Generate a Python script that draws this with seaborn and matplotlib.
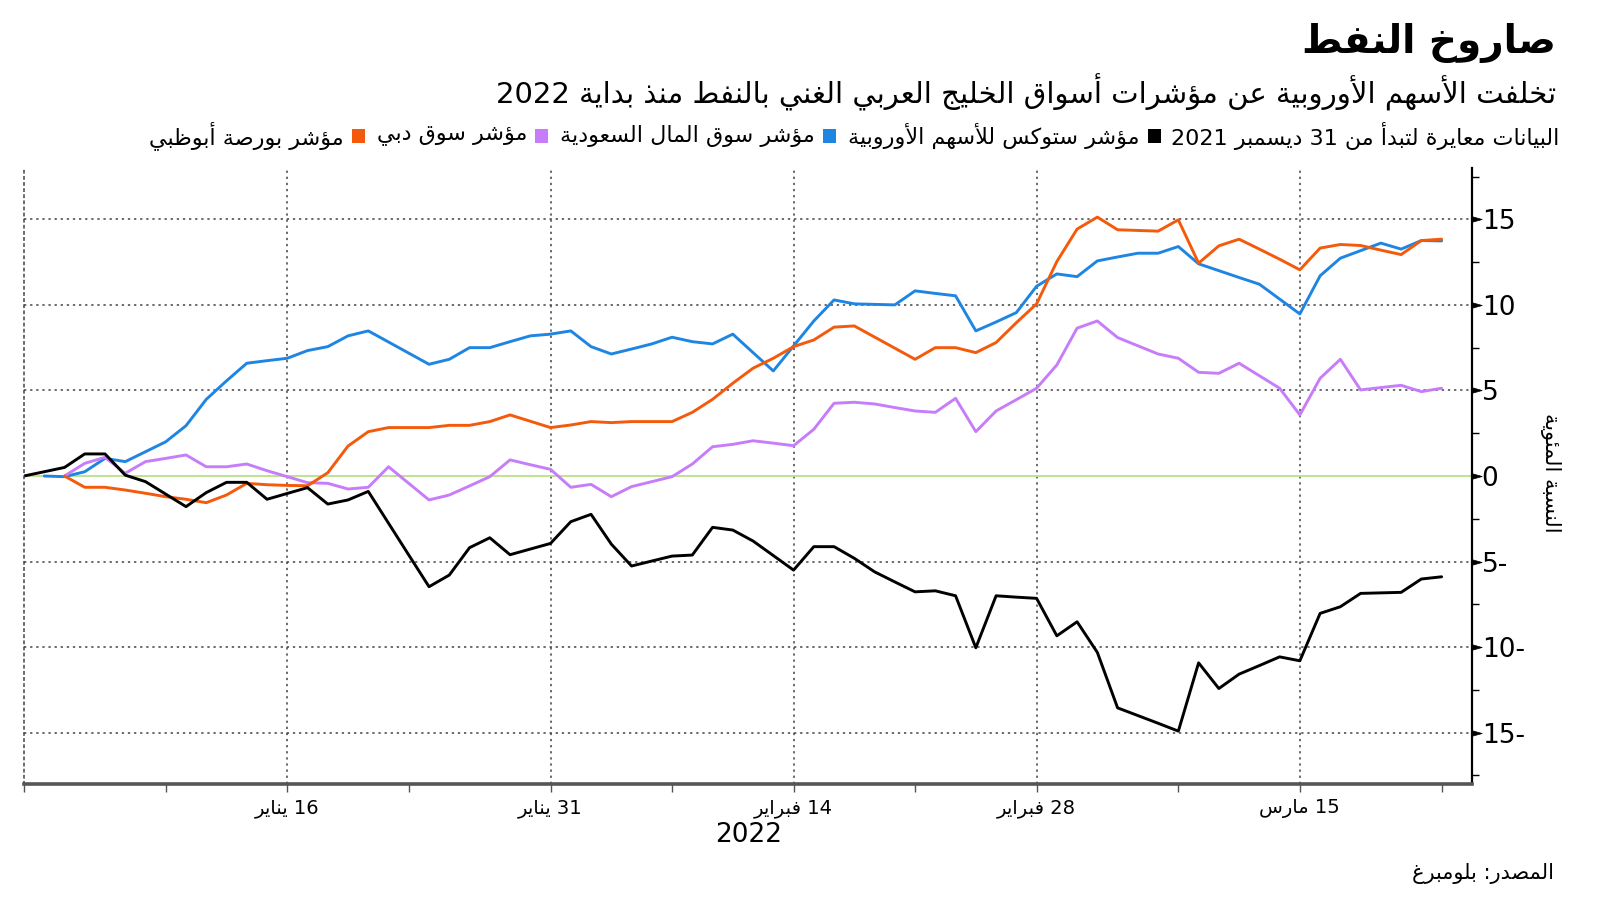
import re
import numpy as np
import pandas as pd
import matplotlib
matplotlib.use("Agg")
import matplotlib.pyplot as plt
from matplotlib.path import Path
import seaborn as sns

# ---------------- data ----------------
start_date = "2021-12-31"
end_date = "2022-03-23"

series_names = ["مؤشر ستوكس للأسهم الأوروبية", "مؤشر سوق المال السعودية",
                "مؤشر سوق دبي", "مؤشر بورصة أبوظبي"]
series_colors = ["#000000", "#1e86e2", "#c77dfa", "#f45a0c"]

stoxx = [0, 0.25, 0.5, 1.29, 1.29, 0.05, -0.33, -1.06, -1.79, -0.97, -0.37, -0.37, -1.36,
         -1.02, -0.68, -1.64, -1.40, -0.90, -2.76, -4.62, -6.47, -5.79, -4.19, -3.61, -4.60,
         -4.27, -3.94, -2.67, -2.24, -3.98, -5.26, -4.97, -4.68, -4.62, -3.00, -3.16, -3.80,
         -4.65, -5.50, -4.13, -4.13, -4.81, -5.60, -6.19, -6.77, -6.71, -7.00, -10.04, -7.00,
         -7.08, -7.15, -9.34, -8.52, -10.31, -13.55, -14.00, -14.45, -14.91, -10.92, -12.42,
         -11.58, -11.08, -10.57, -10.80, -8.03, -7.64, -6.86, -6.83, -6.80, -6.02, -5.89]
saudi = [None, 0.0, -0.04, 0.25, 1.03, 0.84, 1.42, 2.00, 2.94, 4.48, 5.56, 6.59, 6.74,
         6.88, 7.33, 7.56, 8.19, 8.48, 7.83, 7.18, 6.53, 6.82, 7.50, 7.50, 7.85, 8.19, 8.29,
         8.48, 7.56, 7.13, 7.42, 7.72, 8.11, 7.85, 7.72, 8.29, 7.21, 6.14, 7.60, 9.06, 10.29,
         10.06, 10.03, 10.00, 10.82, 10.67, 10.53, 8.48, 9.00, 9.55, 11.09, 11.81, 11.65,
         12.57, 12.80, 13.02, 13.02, 13.41, 12.40, 12.00, 11.60, 11.21, 10.34, 9.47, 11.70,
         12.73, 13.17, 13.61, 13.26, 13.76, 13.74]
dubai = [None, None, 0.0, 0.74, 1.09, 0.16, 0.84, 1.03, 1.23, 0.54, 0.54, 0.70, 0.31,
         -0.04, -0.39, -0.43, -0.76, -0.66, 0.54, -0.43, -1.40, -1.11, -0.58, -0.04, 0.94,
         0.66, 0.39, -0.66, -0.49, -1.21, -0.62, -0.33, -0.04, 0.70, 1.71, 1.85, 2.06, 1.92,
         1.77, 2.73, 4.25, 4.31, 4.21, 4.00, 3.80, 3.72, 4.54, 2.59, 3.80, 4.46, 5.13, 6.49,
         8.64, 9.06, 8.09, 7.61, 7.13, 6.88, 6.06, 6.00, 6.59, 5.86, 5.13, 3.57, 5.71, 6.82,
         5.03, 5.17, 5.30, 4.93, 5.13]
abudhabi = [None, None, 0.0, -0.66, -0.66, -0.82, -1.01, -1.21, -1.36, -1.56, -1.11, -0.43,
            -0.51, -0.55, -0.57, 0.19, 1.75, 2.59, 2.83, 2.83, 2.83, 2.96, 2.96, 3.18, 3.57,
            3.20, 2.83, 2.98, 3.18, 3.12, 3.18, 3.18, 3.18, 3.72, 4.48, 5.42, 6.30, 6.88, 7.56,
            7.95, 8.70, 8.77, 8.12, 7.47, 6.82, 7.50, 7.50, 7.21, 7.80, 8.96, 10.06, 12.53,
            14.43, 15.13, 14.39, 14.35, 14.31, 14.97, 12.44, 13.45, 13.84, 13.26, 12.67, 12.05,
            13.32, 13.53, 13.47, 13.20, 12.94, 13.76, 13.84]

x_tick_dates = ["2022-01-16", "2022-01-31", "2022-02-14", "2022-02-28", "2022-03-15"]
x_tick_labels = ["16 يناير", "31 يناير", "14 فبراير", "28 فبراير", "15 مارس"]
x_minor_dates = ["2021-12-31", "2022-01-09", "2022-01-23", "2022-02-07", "2022-02-21",
                 "2022-03-08", "2022-03-23"]
y_ticks = [-15, -10, -5, 0, 5, 10, 15]
y_tick_labels = ["15-", "10-", "5-", "0", "5", "10", "15"]

title = "صاروخ النفط"
subtitle = "تخلفت الأسهم الأوروبية عن مؤشرات أسواق الخليج العربي الغني بالنفط منذ بداية 2022"
legend_note = "البيانات معايرة لتبدأ من 31 ديسمبر 2021"
y_label = "النسبة المئوية"
year_label = "2022"
source = "المصدر: بلومبرغ"

# ---------------- Arabic shaping (matplotlib has no complex text layout) ----------------
_T = [('\u0621', 0xFE80, 1), ('\u0622', 0xFE81, 2), ('\u0623', 0xFE83, 2), ('\u0624', 0xFE85, 2),
      ('\u0625', 0xFE87, 2), ('\u0626', 0xFE89, 4), ('\u0627', 0xFE8D, 2), ('\u0628', 0xFE8F, 4),
      ('\u0629', 0xFE93, 2), ('\u062A', 0xFE95, 4), ('\u062B', 0xFE99, 4), ('\u062C', 0xFE9D, 4),
      ('\u062D', 0xFEA1, 4), ('\u062E', 0xFEA5, 4), ('\u062F', 0xFEA9, 2), ('\u0630', 0xFEAB, 2),
      ('\u0631', 0xFEAD, 2), ('\u0632', 0xFEAF, 2), ('\u0633', 0xFEB1, 4), ('\u0634', 0xFEB5, 4),
      ('\u0635', 0xFEB9, 4), ('\u0636', 0xFEBD, 4), ('\u0637', 0xFEC1, 4), ('\u0638', 0xFEC5, 4),
      ('\u0639', 0xFEC9, 4), ('\u063A', 0xFECD, 4), ('\u0641', 0xFED1, 4), ('\u0642', 0xFED5, 4),
      ('\u0643', 0xFED9, 4), ('\u0644', 0xFEDD, 4), ('\u0645', 0xFEE1, 4), ('\u0646', 0xFEE5, 4),
      ('\u0647', 0xFEE9, 4), ('\u0648', 0xFEED, 2), ('\u0649', 0xFEEF, 2), ('\u064A', 0xFEF1, 4)]
FORMS = {c: (b, n) for c, b, n in _T}
LAMALEF = {'\u0622': 0xFEF5, '\u0623': 0xFEF7, '\u0625': 0xFEF9, '\u0627': 0xFEFB}


def shape(s):
    out, i, n, prev = [], 0, len(s), False
    while i < n:
        c = s[i]
        if c == '\u0644' and i + 1 < n and s[i + 1] in LAMALEF:
            out.append(chr(LAMALEF[s[i + 1]] + (1 if prev else 0)))
            prev = False
            i += 2
            continue
        if c in FORMS:
            base, nf = FORMS[c]
            nxt = s[i + 1] if i + 1 < n else ''
            nj = nf == 4 and nxt in FORMS and FORMS[nxt][1] > 1
            if nf == 1:
                f = 0
            elif prev and nj:
                f = 3
            elif prev:
                f = 1
            elif nj:
                f = 2
            else:
                f = 0
            out.append(chr(base + f))
            prev = nf == 4
        else:
            out.append(c)
            prev = False
        i += 1
    return ''.join(out)


def rtl(s):
    toks = re.findall(r'[0-9A-Za-z]+(?:[.,][0-9]+)*|.', shape(s))
    return ''.join(reversed(toks))


# ---------------- build frame ----------------
dates = pd.date_range(start_date, end_date)
dates = dates[dates.dayofweek != 5]          # Sunday-Friday trading calendar
pos = {d: i for i, d in enumerate(dates)}
idx = np.arange(len(dates))

frames = []
for name, vals in zip(series_names, [stoxx, saudi, dubai, abudhabi]):
    frames.append(pd.DataFrame({"i": idx, "v": pd.to_numeric(pd.Series(vals), errors="coerce"),
                                "s": name}))
df = pd.concat(frames).dropna()

# ---------------- figure ----------------
sns.set_theme(style="white")
plt.rcParams["font.family"] = ["DejaVu Sans"]
plt.rcParams["text.color"] = "black"
plt.rcParams["xtick.color"] = "black"
plt.rcParams["ytick.color"] = "black"
plt.rcParams["xtick.labelcolor"] = "black"
plt.rcParams["ytick.labelcolor"] = "black"

fig = plt.figure(figsize=(16, 9.01), dpi=100)
W, H = 1600, 901
ax = fig.add_axes([24 / W, 1 - 784 / H, (1472 - 24) / W, (784 - 168) / H])

draw_order = [1, 2, 3, 0]
pal = {series_names[k]: series_colors[k] for k in range(4)}
sns.lineplot(data=df, x="i", y="v", hue="s", hue_order=[series_names[k] for k in draw_order],
             palette=pal, linewidth=2.1, legend=False, ax=ax, sort=False)

ax.axhline(0, color="#b7e08a", lw=1.3, zorder=1)
ax.set_xlim(0, 71.5)
ax.set_ylim(-18, 18)
ax.set_xlabel("")
ax.set_ylabel("")

# x ticks
ax.set_xticks([pos[pd.Timestamp(d)] for d in x_tick_dates])
ax.set_xticklabels([rtl(t) for t in x_tick_labels], fontsize=14)
ax.set_xticks([pos[pd.Timestamp(d)] for d in x_minor_dates], minor=True)
ax.tick_params(axis="x", which="both", direction="out", length=6, width=1, color="#555555",
               labelcolor="black", pad=5, bottom=True)

# y ticks on right
ax.yaxis.tick_right()
ax.set_yticks(y_ticks)
ax.set_yticklabels(y_tick_labels, fontsize=19)
ax.set_yticks([-17.5, -12.5, -7.5, -2.5, 2.5, 7.5, 12.5, 17.5], minor=True)
ax.tick_params(axis="y", which="major", length=7, pad=0, right=True, left=False, colors="black")
ax.tick_params(axis="y", which="minor", length=5, width=1, right=True, left=False, color="black")
tri = Path([(0, -0.28), (1, 0), (0, 0.28), (0, -0.28)],
           [Path.MOVETO, Path.LINETO, Path.LINETO, Path.CLOSEPOLY])
for t in ax.yaxis.get_major_ticks():
    t.tick2line.set_marker(tri)
    t.tick2line.set_markersize(14)
    t.tick2line.set_markerfacecolor("black")
    t.tick2line.set_markeredgecolor("black")
    t.tick2line.set_markeredgewidth(0.5)

# grid
ax.grid(True, which="major", axis="both", linestyle=(0, (1.5, 2.5)), color="#444444", lw=1.1)
for gl, v in zip(ax.yaxis.get_gridlines(), y_ticks):
    if v == 0:
        gl.set_visible(False)

# spines
ax.spines["top"].set_visible(False)
ax.spines["left"].set_linestyle((0, (1.5, 2.5)))
ax.spines["left"].set_color("#444444")
ax.spines["left"].set_linewidth(1.1)
ax.spines["bottom"].set_color("#555555")
ax.spines["bottom"].set_linewidth(2.6)
ax.spines["right"].set_color("black")
ax.spines["right"].set_linewidth(1.6)

# ---------------- texts ----------------
fig.text(1556 / W, 1 - 43 / H, rtl(title), ha="right", va="center", fontsize=28,
         fontweight="bold", color="black")
fig.text(1556 / W, 1 - 92 / H, rtl(subtitle), ha="right", va="center", fontsize=21,
         color="black")
fig.text(1551 / W, 1 - 473 / H, rtl(y_label), rotation=270, ha="center", va="center",
         fontsize=15, color="black")
fig.text(749 / W, 1 - 835 / H, year_label, ha="center", va="center", fontsize=19,
         color="black")
fig.text(1554 / W, 1 - 874 / H, rtl(source), ha="right", va="center", fontsize=15,
         color="black")

# legend row laid out right-to-left: note, then (square, label) per series
renderer = fig.canvas.get_renderer()
y_leg = 1 - 136 / H
t = fig.text(1559 / W, y_leg, rtl(legend_note), ha="right", va="center", fontsize=16,
             color="black")
x_cur = t.get_window_extent(renderer).x0 - 10
for k in range(4):
    sq = plt.Rectangle(((x_cur - 13) / W, y_leg - 6.5 / H), 13 / W, 13 / H,
                       transform=fig.transFigure, color=series_colors[k], lw=0)
    fig.add_artist(sq)
    x_cur -= 13 + 8
    t = fig.text(x_cur / W, y_leg, rtl(series_names[k]), ha="right", va="center",
                 fontsize=16, color="black")
    x_cur = t.get_window_extent(renderer).x0 - 12

fig.savefig("out.png", dpi=100)
